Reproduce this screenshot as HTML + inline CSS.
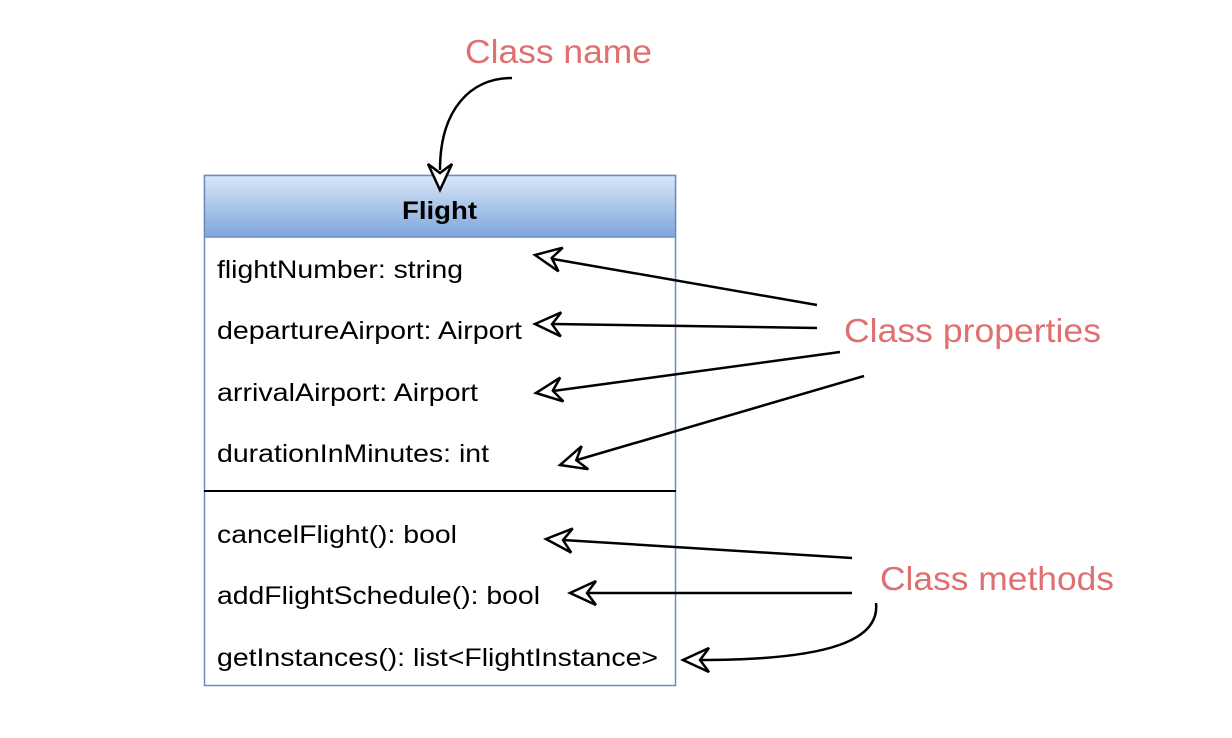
<!DOCTYPE html>
<html><head><meta charset="utf-8"><style>
body{margin:0;width:1232px;height:738px;background:#fff;overflow:hidden;font-family:"Liberation Sans",Arial,sans-serif;}
</style></head><body>
<svg id="s" width="1232" height="738" xmlns="http://www.w3.org/2000/svg" style="position:absolute;left:0;top:0">
<defs><linearGradient id="g" x1="0" y1="0" x2="0" y2="1"><stop offset="0" stop-color="#dae6f7"/><stop offset="1" stop-color="#7ea6dc"/></linearGradient></defs>
<rect x="204.5" y="175.5" width="471" height="510" fill="#fff" stroke="#6c8ebf" stroke-width="1.5"/>
<rect x="204.5" y="175.5" width="471" height="61.5" fill="url(#g)" stroke="#6c8ebf" stroke-width="1.5"/>
<line x1="204" y1="491" x2="676" y2="491" stroke="#000" stroke-width="2"/>
<g font-size="25" fill="#000" lengthAdjust="spacingAndGlyphs">
<text x="402" y="219" font-weight="bold" textLength="75" lengthAdjust="spacingAndGlyphs">Flight</text>
<text x="217" y="278" textLength="246" lengthAdjust="spacingAndGlyphs">flightNumber: string</text>
<text x="217" y="339" textLength="305" lengthAdjust="spacingAndGlyphs">departureAirport: Airport</text>
<text x="217" y="401" textLength="261" lengthAdjust="spacingAndGlyphs">arrivalAirport: Airport</text>
<text x="217" y="462" textLength="272" lengthAdjust="spacingAndGlyphs">durationInMinutes: int</text>
<text x="217" y="543" textLength="240" lengthAdjust="spacingAndGlyphs">cancelFlight(): bool</text>
<text x="217" y="604" textLength="323" lengthAdjust="spacingAndGlyphs">addFlightSchedule(): bool</text>
<text x="217" y="666" textLength="441" lengthAdjust="spacingAndGlyphs">getInstances(): list&lt;FlightInstance&gt;</text>
</g>
<g font-size="33" fill="#e07070">
<text x="465" y="63" textLength="187" lengthAdjust="spacingAndGlyphs">Class name</text>
<text x="844" y="342" textLength="257" lengthAdjust="spacingAndGlyphs">Class properties</text>
<text x="880" y="590" textLength="234" lengthAdjust="spacingAndGlyphs">Class methods</text>
</g>
<g fill="none" stroke="#000" stroke-width="2.5">
<path d="M512 78 C470 78 440 110 440 170"/>
<line x1="817" y1="305" x2="553" y2="259"/>
<line x1="817" y1="328" x2="553" y2="324"/>
<line x1="840" y1="352" x2="553" y2="391"/>
<line x1="864" y1="376" x2="577" y2="460"/>
<line x1="852" y1="558" x2="563" y2="540"/>
<line x1="852" y1="593" x2="588" y2="593"/>
<path d="M876 603 C880 640 830 660 700 660"/>
</g>
<g id="a" fill="#fff" stroke="#000" stroke-width="2.5" stroke-linejoin="miter"></g>
</svg>
<script>
var heads=[[440,190,440,160],[535,255,817,305],[535,324,817,328],[536,393,840,352],[560,465,864,376],[546,539,852,558],[570,593,852,593],[683,660,740,660]];
var g=document.getElementById('a'),h='';
heads.forEach(function(p){var dx=p[2]-p[0],dy=p[3]-p[1],l=Math.hypot(dx,dy);dx/=l;dy/=l;var nx=-dy,ny=dx;
var L=26,W=12,N=17;
var pts=[[p[0],p[1]],[p[0]+dx*L+nx*W,p[1]+dy*L+ny*W],[p[0]+dx*N,p[1]+dy*N],[p[0]+dx*L-nx*W,p[1]+dy*L-ny*W]];
h+='<polygon points="'+pts.map(function(q){return q[0].toFixed(1)+','+q[1].toFixed(1)}).join(' ')+'"/>';});
g.innerHTML=h;
</script>
</body></html>
